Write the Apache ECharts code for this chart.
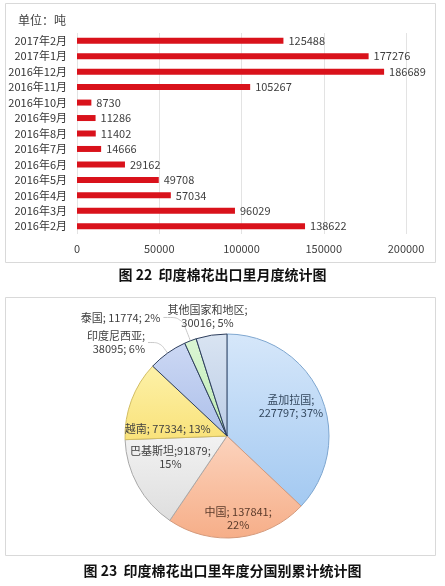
<!DOCTYPE html>
<html><head><meta charset="utf-8">
<script src="https://cdn.jsdelivr.net/npm/echarts@6/dist/echarts.min.js"></script>
<style>html,body{margin:0;padding:0;background:#fff}#c{width:445px;height:586px}</style>
</head><body><div id="c"></div>
<script>
var months = ['2016年2月','2016年3月','2016年4月','2016年5月','2016年6月','2016年7月','2016年8月','2016年9月','2016年10月','2016年11月','2016年12月','2017年1月','2017年2月'];
var exports = [138622,96029,57034,49708,29162,14666,11402,11286,8730,105267,186689,177276,125488];
var xTicks = [0,50000,100000,150000,200000];

var countries = ['孟加拉国','中国','巴基斯坦','越南','印度尼西亚','泰国','其他国家和地区'];
var countryValues = [227797,137841,91879,77334,38095,11774,30016];
var labelTemplates = ['{b};\n{c}; {d}%','{b}; {c};\n{d}%','{b};{c};\n{d}%','{b}; {c}; {d}%','{b};\n{c}; {d}%','{b}; {c}; {d}%','{b};\n{c}; {d}%'];

var FONT = '"Noto Sans CJK SC", "Noto Sans", sans-serif';
var sliceStyles = [
  {c1:'#d6e7fa', c2:'#a3c9f1', border:'#7ea6cf', text:'#34485e', inside:true,  nudge:[-5,0]},
  {c1:'#fcd3bd', c2:'#f6ae88', border:'#d49a7c', text:'#5a3a2a', inside:true,  nudge:[3,8]},
  {c1:'#f2f2f2', c2:'#dedede', border:'#a8a8a8', text:'#404040', inside:true,  nudge:[9,-15]},
  {c1:'#fdf1a8', c2:'#f9e27a', border:'#d2bd62', text:'#404040', inside:true,  nudge:[11,19]},
  {c1:'#ccd8f4', c2:'#adc0ea', border:'#2d3e5c', text:'#404040', inside:false, line:[13,12], showLine:true},
  {c1:'#dbf6d4', c2:'#bdeab2', border:'#2d3e5c', text:'#404040', inside:false, line:[25,18], showLine:true},
  {c1:'#d9e4f2', c2:'#bccde6', border:'#2d3e5c', text:'#404040', inside:false, line:[6,0], showLine:false, centered:true}
];

var pieData = countries.map(function(n,i){
  var s = sliceStyles[i];
  var item = {
    name:n, value:countryValues[i],
    itemStyle:{
      color:{type:'linear',x:0,y:0,x2:0,y2:1,colorStops:[{offset:0,color:s.c1},{offset:1,color:s.c2}]},
      borderColor:s.border, borderWidth:1
    },
    label:{show:!s.inside, formatter:labelTemplates[i]},
    labelLine:{show:!s.inside && s.showLine}
  };
  if (s.line) { item.labelLine.length = s.line[0]; item.labelLine.length2 = s.line[1]; }
  return item;
});
var pieLabelData = countries.map(function(n,i){
  var s = sliceStyles[i];
  return {
    name:n, value:countryValues[i],
    label:{show:s.inside, formatter:labelTemplates[i], color:s.text}
  };
});

var chart = echarts.init(document.getElementById('c'), null, {renderer:'canvas'});
chart.setOption({
  animation:false,
  textStyle:{fontFamily:FONT},
  graphic:[
    {type:'rect', shape:{x:5.5,y:3.5,width:430,height:259}, style:{fill:'none',stroke:'#d9d9d9',lineWidth:1}, silent:true},
    {type:'rect', shape:{x:5.5,y:297.5,width:430,height:258}, style:{fill:'none',stroke:'#d9d9d9',lineWidth:1}, silent:true},
    {type:'text', left:18, top:14, style:{text:'单位：吨', font:'12px '+FONT, fill:'#404040'}},
    {type:'text', left:'center', top:268, style:{text:'图 22  印度棉花出口里月度统计图', font:'bold 14px '+FONT, fill:'#111'}},
    {type:'text', left:'center', top:564, style:{text:'图 23  印度棉花出口里年度分国别累计统计图', font:'bold 14px '+FONT, fill:'#111'}}
  ],
  grid:{left:77, top:33, width:329, height:201, containLabel:false},
  xAxis:{
    type:'value', min:xTicks[0], max:xTicks[xTicks.length-1], interval:xTicks[1]-xTicks[0],
    axisLine:{show:false}, axisTick:{show:false},
    axisLabel:{fontSize:11, color:'#404040', margin:9, formatter:function(v){return String(v);}},
    splitLine:{lineStyle:{color:'#e3e3e3', width:1}}
  },
  yAxis:{
    type:'category', data:months,
    axisLine:{show:false}, axisTick:{show:false},
    axisLabel:{fontSize:11, color:'#333', margin:10}
  },
  series:[
    {
      type:'bar', data:exports, barWidth:6,
      itemStyle:{color:'#d9121b'},
      label:{show:true, position:'right', distance:5, fontSize:11, color:'#404040'}
    },
    {
      type:'pie', center:[227,436], radius:102, startAngle:90, clockwise:true,
      percentPrecision:0, data:pieData, silent:true, avoidLabelOverlap:false,
      label:{position:'outside', fontSize:11, color:'#404040', lineHeight:13, distanceToLabelLine:3},
      labelLine:{smooth:0.3, lineStyle:{color:'#c8c8c8', width:1}},
      labelLayout:function(p){
        var s = sliceStyles[p.dataIndex];
        if (s.centered) return {align:'center', verticalAlign:'bottom'};
        return {};
      }
    },
    {
      type:'pie', center:[227,436], radius:144, startAngle:90, clockwise:true,
      percentPrecision:0, data:pieLabelData, silent:true,
      itemStyle:{color:'rgba(0,0,0,0)', borderWidth:0},
      label:{position:'inside', fontSize:11, lineHeight:13},
      labelLine:{show:false},
      labelLayout:function(p){
        var s = sliceStyles[p.dataIndex];
        return s.nudge ? {dx:s.nudge[0], dy:s.nudge[1]} : {};
      }
    }
  ]
});
</script></body></html>
